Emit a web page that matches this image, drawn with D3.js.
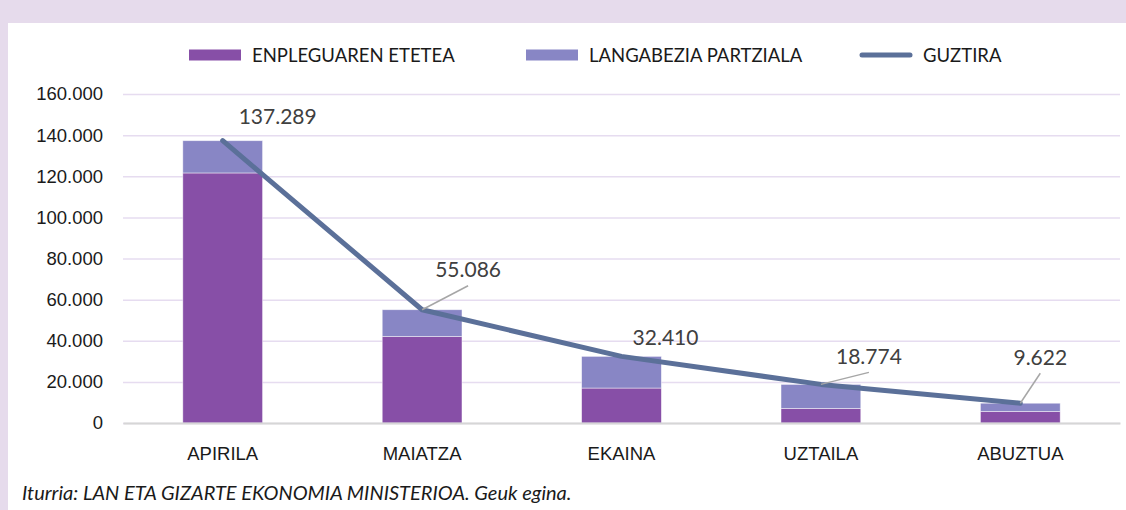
<!DOCTYPE html>
<html>
  <head>
    <meta charset="utf-8">
    <style>
      body { margin: 0; }
      svg { display: block; font-family: Lato, "Open Sans", sans-serif; }
    </style>
  </head>
  <body>
    <script src="https://cdn.jsdelivr.net/npm/d3@7"></script>
    <script>
    // data
    var months = ["APIRILA", "MAIATZA", "EKAINA", "UZTAILA", "ABUZTUA"];
    var enplegu = [121600, 42100, 17000, 7100, 5640];
    var partziala = [15689, 12986, 15410, 11674, 3982];
    var guztira = [137289, 55086, 32410, 18774, 9622];
    var yTicks = [0, 20000, 40000, 60000, 80000, 100000, 120000, 140000, 160000];
    var seriesNames = ["ENPLEGUAREN ETETEA", "LANGABEZIA PARTZIALA", "GUZTIRA"];
    var sourceText = "Iturria: LAN ETA GIZARTE EKONOMIA MINISTERIOA. Geuk egina.";

    // where each total label sits relative to its point, and whether it gets a leader
    var labelOffsets = [
      { dx: 55, dy: -25, leader: false },
      { dx: 46, dy: -41, leader: true },
      { dx: 44, dy: -20, leader: false },
      { dx: 48, dy: -29, leader: true },
      { dx: 20, dy: -47, leader: true }
    ];

    var W = 1126, H = 510;
    var margin = { top: 94, right: 6, bottom: 87, left: 123 },
        width = W - margin.left - margin.right,
        height = H - margin.top - margin.bottom;

    var colors = { dark: "#874fa7", light: "#8886c5", line: "#5b7099", grid: "#e6dcf0", band: "#e6dbec" };

    var locale = d3.formatLocale({ decimal: ",", thousands: ".", grouping: [3], currency: ["", "€"] });
    var fmt = locale.format(",d");

    var svg = d3.select("body").append("svg")
        .attr("width", W)
        .attr("height", H);

    // lavender frame
    svg.append("rect").attr("width", W).attr("height", H).attr("fill", colors.band);
    svg.append("rect").attr("x", 8).attr("y", 23).attr("width", W - 8).attr("height", H - 23).attr("fill", "#fff");

    var g = svg.append("g")
        .attr("transform", "translate(" + margin.left + "," + margin.top + ")");

    var x = d3.scaleBand().domain(months).range([0, width]).paddingInner(0.6).paddingOuter(0.3);
    var y = d3.scaleLinear().domain([0, 160000]).range([height, 0]);

    // gridlines + y labels
    var yAxis = g.append("g")
        .call(d3.axisLeft(y).tickValues(yTicks).tickFormat(fmt).tickSize(-width).tickPadding(20));
    yAxis.select(".domain").remove();
    yAxis.selectAll(".tick line").attr("stroke", colors.grid).attr("stroke-width", 1.5);
    yAxis.selectAll(".tick text").attr("fill", "#1a1a1a").style("font-size", "18.5px");

    // stacked bars
    var stackData = months.map(function (m, i) {
      return { month: m, a: enplegu[i], b: partziala[i] };
    });
    var stacked = d3.stack().keys(["a", "b"])(stackData);
    var fills = [colors.dark, colors.light];

    g.selectAll(".layer")
      .data(stacked)
      .enter().append("g")
        .attr("fill", function (d, i) { return fills[i]; })
      .selectAll("rect")
      .data(function (d) { return d; })
      .enter().append("rect")
        .attr("x", function (d) { return x(d.data.month); })
        .attr("width", x.bandwidth())
        .attr("y", function (d) { return y(d[1]); })
        .attr("height", function (d) { return y(d[0]) - y(d[1]); })
        .attr("stroke", "#fff")
        .attr("stroke-opacity", 0.6)
        .attr("stroke-width", 0.75);

    // x axis
    var xAxis = g.append("g")
        .attr("transform", "translate(0," + height + ")")
        .call(d3.axisBottom(x).tickSize(0).tickPadding(24));
    xAxis.select(".domain").attr("stroke", "#d6d6d6").attr("stroke-width", 2);
    xAxis.selectAll(".tick text").attr("fill", "#1a1a1a").style("font-size", "18.5px");

    // total line
    var pts = months.map(function (m, i) {
      return [x(m) + x.bandwidth() / 2, y(guztira[i])];
    });

    g.append("path")
      .datum(pts)
      .attr("fill", "none")
      .attr("stroke", colors.line)
      .attr("stroke-width", 5)
      .attr("stroke-linecap", "round")
      .attr("stroke-linejoin", "round")
      .attr("d", d3.line());

    // total labels
    pts.forEach(function (p, i) {
      var o = labelOffsets[i];
      var lx = p[0] + o.dx, ly = p[1] + o.dy;
      if (o.leader) {
        g.append("line")
          .attr("x1", p[0]).attr("y1", p[1])
          .attr("x2", lx).attr("y2", ly + 17)
          .attr("stroke", "#a6a6a6")
          .attr("stroke-width", 1.5);
      }
      g.append("text")
        .attr("x", lx).attr("y", ly)
        .attr("text-anchor", "middle")
        .attr("dominant-baseline", "central")
        .attr("fill", "#404040")
        .style("font-size", "21px")
        .text(fmt(guztira[i]));
    });

    // legend
    var legendX = [189, 526, 860];
    var legend = svg.append("g").attr("transform", "translate(0,55)");
    seriesNames.forEach(function (name, i) {
      var lg = legend.append("g").attr("transform", "translate(" + legendX[i] + ",0)");
      if (i < 2) {
        lg.append("rect").attr("y", -5.5).attr("width", 52).attr("height", 11).attr("fill", fills[i]);
      } else {
        lg.append("line").attr("x1", 2).attr("x2", 50)
          .attr("stroke", colors.line).attr("stroke-width", 5).attr("stroke-linecap", "round");
      }
      lg.append("text")
        .attr("x", 63)
        .attr("dominant-baseline", "central")
        .attr("fill", "#1a1a1a")
        .style("font-size", "18.5px")
        .text(name);
    });

    // source note
    svg.append("text")
      .attr("x", 22).attr("y", 492)
      .attr("dominant-baseline", "central")
      .attr("fill", "#1a1a1a")
      .style("font-size", "20px")
      .style("font-style", "italic")
      .text(sourceText);
    </script>
  </body>
</html>
